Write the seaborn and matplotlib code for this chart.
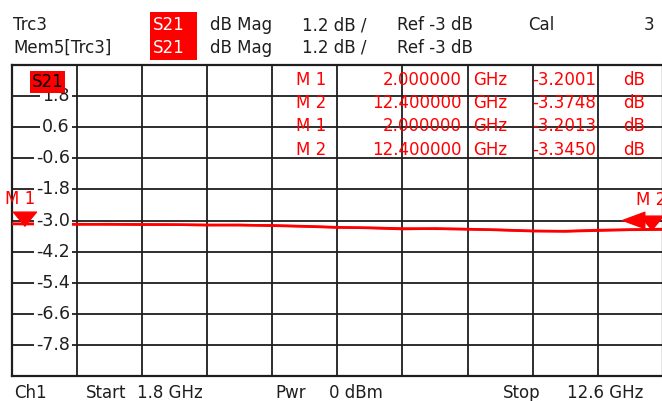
import numpy as np
import pandas as pd
import seaborn as sns
import matplotlib.pyplot as plt
from matplotlib.patches import Rectangle

# sweep, GHz (half-division steps, 1.08 GHz/div)
freq_ghz = [1.8, 2.34, 2.88, 3.42, 3.96, 4.50, 5.04, 5.58, 6.12, 6.66, 7.20,
            7.74, 8.28, 8.82, 9.36, 9.90, 10.44, 10.98, 11.52, 12.06, 12.6]
trc3_db = [-3.13, -3.13, -3.14, -3.15, -3.15, -3.16, -3.17, -3.18, -3.19, -3.22, -3.26,
           -3.29, -3.33, -3.31, -3.34, -3.36, -3.40, -3.42, -3.39, -3.36, -3.35]
mem5_db = [-3.13, -3.14, -3.15, -3.14, -3.16, -3.16, -3.18, -3.17, -3.20, -3.23, -3.27,
           -3.28, -3.31, -3.32, -3.33, -3.37, -3.41, -3.41, -3.37, -3.35, -3.33]

marker_names = ["M 1", "M 2"]
marker_freq = [2.0, 12.4]
trc3_marker_db = [-3.2001, -3.3748]
mem5_marker_db = [-3.2013, -3.3450]

y_ticks = [3.0, 1.8, 0.6, -0.6, -1.8, -3.0, -4.2, -5.4, -6.6, -7.8, -9.0]
y_labels = ["1.8", "0.6", "-0.6", "-1.8", "-3.0", "-4.2", "-5.4", "-6.6", "-7.8"]
x_ticks = [1.8, 2.88, 3.96, 5.04, 6.12, 7.2, 8.28, 9.36, 10.44, 11.52, 12.6]

RED = "#ff0000"
INK = "#1e1e1e"
W, H = 662, 401

sns.set_theme(style="white")
plt.rcParams["font.family"] = ["DejaVu Sans"]
plt.rcParams["font.size"] = 12

fig = plt.figure(figsize=(W / 100, H / 100), dpi=100)
fig.patch.set_facecolor("white")
ax = fig.add_axes([11.7 / W, 25 / H, (663 - 11.7) / W, 311 / H])

df = pd.DataFrame({
    "freq": freq_ghz * 2,
    "db": trc3_db + mem5_db,
    "trace": ["Trc3"] * len(freq_ghz) + ["Mem5[Trc3]"] * len(freq_ghz),
})
sns.lineplot(data=df, x="freq", y="db", hue="trace", palette=[RED, RED],
             linewidth=1.8, legend=False, ax=ax, zorder=4)

ax.set_xlim(1.8, 12.6)
ax.set_ylim(-9.0, 3.0)
ax.set_xticks(x_ticks)
ax.set_yticks(y_ticks)
ax.set_xticklabels([])
ax.set_yticklabels([])
ax.tick_params(length=0)
ax.grid(True, color=INK, linewidth=1.3)
ax.set_xlabel("")
ax.set_ylabel("")
for s in ax.spines.values():
    s.set_color(INK)
    s.set_linewidth(1.6)

# y labels drawn inside the grid with a white box
for v, lab in zip(y_ticks[1:-1], y_labels):
    ax.text(0.0895, v, lab, transform=ax.get_yaxis_transform(), ha="right", va="center",
            fontsize=12.5, color=INK, zorder=5,
            bbox=dict(boxstyle="square,pad=0.12", fc="white", ec="none"))

# trace label box in the grid (sits over the top of the 1.8 label)
ax.text(0.055, 0.944, "S21", transform=ax.transAxes, ha="center", va="center",
        fontsize=12, color="black", zorder=6,
        bbox=dict(boxstyle="square,pad=0.12", fc=RED, ec="none"))

# markers: tip at the marker value
tri_down = [(-1 / 1.2, 1), (1 / 1.2, 1), (0, 0)]
ax.plot(marker_freq, trc3_marker_db, linestyle="none", marker=tri_down,
        markersize=20.7, color=RED, zorder=6, clip_on=False)
tri_left = [(-29.7, 8.7), (-6.7, 17.2), (-6.7, 0.2)]
ax.plot(marker_freq[1:], mem5_marker_db[1:], linestyle="none", marker=tri_left,
        markersize=42.8, color=RED, zorder=6, clip_on=False)
ax.annotate(marker_names[0], (marker_freq[0], trc3_marker_db[0]), xytext=(-4, 27),
            textcoords="offset pixels", ha="center", va="center", color=RED, fontsize=12,
            annotation_clip=False)
ax.annotate(marker_names[1], (marker_freq[1], trc3_marker_db[1]), xytext=(0, 30),
            textcoords="offset pixels", ha="center", va="center", color=RED, fontsize=12,
            annotation_clip=False)


def ftext(x, y, s, **kw):
    kw.setdefault("color", INK)
    kw.setdefault("fontsize", 12)
    fig.text(x / W, 1 - y / H, s, va="center", **kw)


# marker table
rows_y = [80, 103, 126, 149.5]
rows = [(marker_names[0], marker_freq[0], trc3_marker_db[0]),
        (marker_names[1], marker_freq[1], trc3_marker_db[1]),
        (marker_names[0], marker_freq[0], mem5_marker_db[0]),
        (marker_names[1], marker_freq[1], mem5_marker_db[1])]
for y, (name, f, v) in zip(rows_y, rows):
    ftext(296, y, name, color=RED)
    ftext(462, y, f"{f:.6f}", color=RED, ha="right")
    ftext(473, y, "GHz", color=RED)
    ftext(532, y, f"{v:.4f}", color=RED)
    ftext(623, y, "dB", color=RED)

# header
fig.patches.append(Rectangle((150 / W, 1 - 60 / H), 47 / W, 48 / H,
                             transform=fig.transFigure, fc=RED, ec="none"))
for y, name in [(25, "Trc3"), (48, "Mem5[Trc3]")]:
    ftext(13, y, name)
    ftext(153, y, "S21", color="white")
    ftext(210, y, "dB Mag")
    ftext(302, y, "1.2 dB /")
    ftext(397, y, "Ref -3 dB")
ftext(528, 25, "Cal")
ftext(644, 25, "3")

# footer
ftext(14, 393, "Ch1")
ftext(86, 393, "Start")
ftext(137, 393, "1.8 GHz")
ftext(275, 393, "Pwr")
ftext(329, 393, "0 dBm")
ftext(503, 393, "Stop")
ftext(567, 393, "12.6 GHz")

fig.savefig("out.png", dpi=100)
